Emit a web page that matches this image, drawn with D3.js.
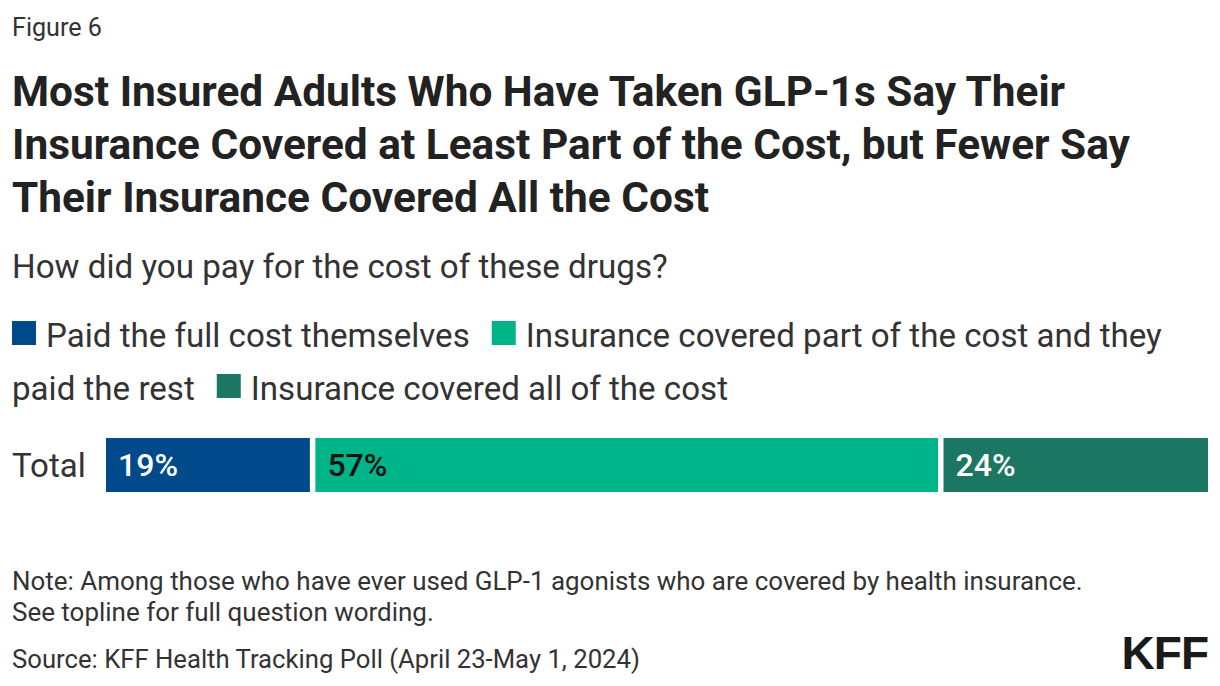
<!DOCTYPE html>
<html><head><meta charset="utf-8">
<script src="https://cdn.jsdelivr.net/npm/d3@7"></script>
<style>body{margin:0;background:#fff}svg{display:block}</style>
</head><body>
<svg id="c" width="1220" height="686"></svg>
<script>
const categories = ["Total"];
const seriesNames = ["Paid the full cost themselves","Insurance covered part of the cost and they paid the rest","Insurance covered all of the cost"];
const seriesValues = [19, 57, 24];
const seriesColors = ["#00498a","#00b48a","#1b7762"];
const labelColors = ["#fff","#111","#fff"];
const titleLines = ["Most Insured Adults Who Have Taken GLP-1s Say Their","Insurance Covered at Least Part of the Cost, but Fewer Say","Their Insurance Covered All the Cost"];
const noteLines = ["Note: Among those who have ever used GLP-1 agonists who are covered by health insurance.","See topline for full question wording."];
const sourceLine = "Source: KFF Health Tracking Poll (April 23-May 1, 2024)";

const FONT = "Roboto, 'Noto Sans', sans-serif";
const svg = d3.select("#c");

function fitText(sel, target, size){
  const w = sel.node().getComputedTextLength();
  return size * target / w;
}
function addLines(lines, x, ys, attrs, targetIdx, targetW, baseSize){
  const g = svg.append("g");
  const ts = lines.map((t,i)=>{
    const e = g.append("text").attr("x",x).attr("y",ys[i]).text(t).style("font-family",FONT).style("font-size",baseSize+"px");
    for(const k in attrs) e.style(k, attrs[k]);
    return e;
  });
  const s = fitText(ts[targetIdx], targetW, baseSize);
  ts.forEach(e=>e.style("font-size", s+"px"));
  return s;
}

// Figure label
addLines(["Figure 6"], 12, [36], {fill:"#333"}, 0, 90, 22);
// Title
addLines(titleLines, 12, [106,159,212], {fill:"#222","font-weight":"700"}, 1, 1118, 38);
// Subtitle
addLines(["How did you pay for the cost of these drugs?"], 12, [278], {fill:"#333"}, 0, 656, 28);

// Legend
const legSize = (function(){
  const t = svg.append("text").text(seriesNames[0]).style("font-family",FONT).style("font-size","28px");
  const s = fitText(t, 424, 28); t.remove(); return s;
})();
const legendRows = [
  [{sw:0, text:seriesNames[0]}, {sw:1, text:"Insurance covered part of the cost and they"}],
  [{sw:null, text:"paid the rest"}, {sw:2, text:seriesNames[2]}]
];
const legYs = [347, 400];
legendRows.forEach((row, ri)=>{
  let x = 12;
  row.forEach(item=>{
    if(item.sw!==null){
      svg.append("rect").attr("x",x).attr("y",legYs[ri]-26).attr("width",24).attr("height",24).attr("fill",seriesColors[item.sw]);
      x += 34;
    }
    const t = svg.append("text").attr("x",x).attr("y",legYs[ri]).text(item.text)
      .style("font-family",FONT).style("font-size",legSize+"px").style("fill","#333");
    x += t.node().getComputedTextLength() + 22;
  });
});

// Bar
const xScale = d3.scaleLinear().domain([0,100]).range([106,1208]);
const yScale = d3.scaleBand().domain(categories).range([438,492]).padding(0);
const gap = 5.5;
let cum = 0;
const segs = seriesValues.map((v,i)=>{ const s={i, v, x0:cum, x1:cum+v}; cum+=v; return s; });
const bars = svg.append("g");
categories.forEach(cat=>{
  bars.selectAll("rect.seg").data(segs).join("rect").attr("class","seg")
    .attr("x", d=>xScale(d.x0))
    .attr("y", yScale(cat))
    .attr("width", d=> xScale(d.x1)-xScale(d.x0) - (d.i<segs.length-1?gap:0))
    .attr("height", yScale.bandwidth())
    .attr("fill", d=>seriesColors[d.i]);
  bars.selectAll("text.lab").data(segs).join("text").attr("class","lab")
    .attr("x", d=>xScale(d.x0)+12)
    .attr("y", yScale(cat)+yScale.bandwidth()/2+11)
    .text(d=>d.v+"%")
    .style("font-family",FONT).style("font-size","32px").style("font-weight","500")
    .style("fill", d=>labelColors[d.i]);
  svg.append("text").attr("x",12).attr("y",yScale(cat)+yScale.bandwidth()/2+12).text(cat)
    .style("font-family",FONT).style("font-size","33px").style("fill","#333");
});

// Notes
const ns = addLines(noteLines, 12, [590,621], {fill:"#333"}, 0, 1071, 22);
addLines([sourceLine], 12, [668], {fill:"#333"}, 0, 628, ns);

// Logo
svg.append("text").attr("x",1208).attr("y",669).attr("text-anchor","end").text("KFF")
  .style("font-family","'Liberation Sans', Arial, sans-serif").style("font-weight","900").style("font-size","46px").style("fill","#1a1a1a").style("letter-spacing","-1px");
</script>
</body></html>
